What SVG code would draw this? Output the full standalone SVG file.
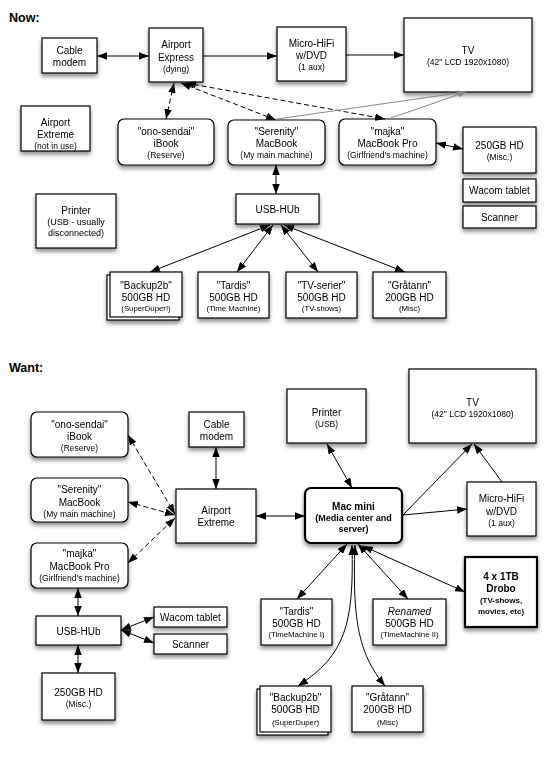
<svg xmlns="http://www.w3.org/2000/svg" width="558" height="759" viewBox="0 0 558 759">
<style>
text{font-family:"Liberation Sans",Arial,sans-serif;fill:#000;text-anchor:middle}
.t{font-size:10px}
.s{font-size:8.5px}
.h{font-size:12.5px;font-weight:bold;text-anchor:start}
.b{font-weight:bold}
.box{fill:#fff;stroke:#000;stroke-width:1.2}
.thick{stroke-width:2.2}
.n{filter:url(#sh)}
.c{fill:none;stroke:#000;stroke-width:1}
.d{stroke-dasharray:5,3}
.g{fill:none;stroke:#888;stroke-width:1}
</style>
<defs>
<filter id="sh" x="-20%" y="-20%" width="140%" height="150%">
<feDropShadow dx="0" dy="3" stdDeviation="2.2" flood-color="#000" flood-opacity="0.45"/>
</filter>
<marker id="a" viewBox="0 0 10 7.5" refX="10" refY="3.75" markerWidth="10" markerHeight="7.5" markerUnits="userSpaceOnUse" orient="auto-start-reverse">
<path d="M0,0 L10,3.75 L0,7.5 Z" fill="#000"/>
</marker>
<marker id="ag" viewBox="0 0 9 7" refX="9" refY="3.5" markerWidth="8" markerHeight="6" markerUnits="userSpaceOnUse" orient="auto">
<path d="M0,0 L9,3.5 L0,7 Z" fill="#888"/>
</marker>
</defs>
<rect width="558" height="759" fill="#fff"/>

<text class="h" x="9" y="22">Now:</text>
<text class="h" x="9" y="372">Want:</text>

<!-- NOW section -->
<g id="now-cable-modem" class="n"><rect class="box" x="42" y="38" width="55" height="35"/>
<text class="t" x="69.5" y="53.5">Cable</text><text class="t" x="69.5" y="65.5">modem</text></g>

<g id="now-airport-express" class="n"><rect class="box" x="149" y="28" width="54" height="54"/>
<text class="t" x="176" y="47.5">Airport</text><text class="t" x="176" y="60.5">Express</text><text class="s" x="176" y="71.5">(dying)</text></g>

<g id="now-micro-hifi" class="n"><rect class="box" x="277" y="27" width="69" height="54"/>
<text class="t" x="311.5" y="46.5">Micro-HiFi</text><text class="t" x="311.5" y="58.5">w/DVD</text><text class="s" x="311.5" y="70">(1 aux)</text></g>

<g id="now-tv" class="n"><rect class="box" x="404" y="18" width="128" height="74"/>
<text class="t" x="468" y="53.5">TV</text><text class="s" x="468" y="65">(42" LCD 1920x1080)</text></g>

<g id="now-airport-extreme" class="n"><rect class="box" x="21" y="106" width="69" height="45"/>
<text class="t" x="55.5" y="126">Airport</text><text class="t" x="55.5" y="138">Extreme</text><text class="s" x="55.5" y="148.5">(not in use)</text></g>

<g id="now-ono-sendai" class="n"><rect class="box" x="118" y="119" width="96" height="46" rx="6"/>
<text class="t" x="166" y="134.5">"ono-sendai"</text><text class="t" x="166" y="146.5">iBook</text><text class="s" x="166" y="158">(Reserve)</text></g>

<g id="now-serenity" class="n"><rect class="box" x="228" y="120" width="97" height="45" rx="6"/>
<text class="t" x="276.5" y="134.5">"Serenity"</text><text class="t" x="276.5" y="146.5">MacBook</text><text class="s" x="276.5" y="158">(My main machine)</text></g>

<g id="now-majka" class="n"><rect class="box" x="339" y="119" width="97" height="46" rx="6"/>
<text class="t" x="387.5" y="134.5">"majka"</text><text class="t" x="387.5" y="146.5">MacBook Pro</text><text class="s" x="387.5" y="158">(Girlfriend's machine)</text></g>

<g id="now-250gb" class="n"><rect class="box" x="463" y="127" width="73" height="46"/>
<text class="t" x="499.5" y="148.5">250GB HD</text><text class="s" x="499.5" y="160">(Misc.)</text></g>

<g id="now-wacom" class="n"><rect class="box" x="463" y="179" width="73" height="23"/>
<text class="t" x="499.5" y="194">Wacom tablet</text></g>

<g id="now-scanner" class="n"><rect class="box" x="463" y="206" width="73" height="22"/>
<text class="t" x="499.5" y="220.5">Scanner</text></g>

<g id="now-printer" class="n"><rect class="box" x="36" y="194" width="80" height="54"/>
<text class="t" x="76" y="213.5">Printer</text><text class="s" x="76" y="225" style="font-size:9px">(USB - usually</text><text class="s" x="76" y="235.5" style="font-size:9px">disconnected)</text></g>

<g id="now-usb-hub" class="n"><rect class="box" x="236" y="194" width="83" height="30"/>
<text class="t" x="277.5" y="212.5">USB-HUb</text></g>

<g id="now-backup2b" class="n"><rect class="box" x="107" y="275" width="72" height="45"/><rect class="box" x="110" y="272" width="72" height="45"/>
<text class="t" x="146" y="288.5">"Backup2b"</text><text class="t" x="146" y="300.5">500GB HD</text><text class="s" x="146" y="310.5" style="font-size:7.8px">(SuperDuper!)</text></g>

<g id="now-tardis" class="n"><rect class="box" x="198" y="272" width="71" height="46"/>
<text class="t" x="233.5" y="288.5">"Tardis"</text><text class="t" x="233.5" y="300.5">500GB HD</text><text class="s" x="233.5" y="310.5" style="font-size:7.8px">(Time Machine)</text></g>

<g id="now-tv-serier" class="n"><rect class="box" x="286" y="272" width="71" height="46"/>
<text class="t" x="321.5" y="288.5">"TV-serier"</text><text class="t" x="321.5" y="300.5">500GB HD</text><text class="s" x="321.5" y="310.5" style="font-size:7.8px">(TV-shows)</text></g>

<g id="now-gratann" class="n"><rect class="box" x="373" y="272" width="73" height="46"/>
<text class="t" x="409.5" y="288.5">"Gråtann"</text><text class="t" x="409.5" y="300.5">200GB HD</text><text class="s" x="409.5" y="310.5" style="font-size:7.8px">(Misc)</text></g>

<!-- WANT section -->
<g id="want-ono-sendai" class="n"><rect class="box" x="31" y="412" width="97" height="45" rx="6"/>
<text class="t" x="79.5" y="427.5">"ono-sendai"</text><text class="t" x="79.5" y="439.5">iBook</text><text class="s" x="79.5" y="450.5">(Reserve)</text></g>

<g id="want-serenity" class="n"><rect class="box" x="31" y="478" width="97" height="44" rx="6"/>
<text class="t" x="79.5" y="492.5">"Serenity"</text><text class="t" x="79.5" y="505.5">MacBook</text><text class="s" x="79.5" y="516.5">(My main machine)</text></g>

<g id="want-majka" class="n"><rect class="box" x="31" y="543" width="97" height="45" rx="6"/>
<text class="t" x="79.5" y="556.5">"majka"</text><text class="t" x="79.5" y="569.5">MacBook Pro</text><text class="s" x="79.5" y="580.5">(Girlfriend's machine)</text></g>

<g id="want-cable-modem" class="n"><rect class="box" x="189" y="412" width="55" height="35"/>
<text class="t" x="216.5" y="427.5">Cable</text><text class="t" x="216.5" y="439.5">modem</text></g>

<g id="want-airport-extreme" class="n"><rect class="box" x="176" y="489" width="80" height="54"/>
<text class="t" x="216" y="514">Airport</text><text class="t" x="216" y="526">Extreme</text></g>

<g id="want-printer" class="n"><rect class="box" x="287" y="389" width="79" height="54"/>
<text class="t" x="326.5" y="415.5">Printer</text><text class="s" x="326.5" y="426.5">(USB)</text></g>

<g id="want-tv" class="n"><rect class="box" x="409" y="369" width="127" height="74"/>
<text class="t" x="472.5" y="405.5">TV</text><text class="s" x="472.5" y="416.5">(42" LCD 1920x1080)</text></g>

<g id="want-mac-mini" class="n"><rect class="box thick" x="305" y="488" width="97" height="55" rx="6"/>
<text class="t b" x="353.5" y="509.5">Mac mini</text><text class="s b" x="353.5" y="520.5" style="font-size:9px">(Media center and</text><text class="s b" x="353.5" y="531.5" style="font-size:9px">server)</text></g>

<g id="want-micro-hifi" class="n"><rect class="box" x="467" y="482" width="69" height="54"/>
<text class="t" x="501.5" y="501.5">Micro-HiFi</text><text class="t" x="501.5" y="514.5">w/DVD</text><text class="s" x="501.5" y="526">(1 aux)</text></g>

<g id="want-usb-hub" class="n"><rect class="box" x="36" y="616" width="85" height="29"/>
<text class="t" x="78.5" y="634.5">USB-HUb</text></g>

<g id="want-wacom" class="n"><rect class="box" x="154" y="607" width="73" height="20"/>
<text class="t" x="190.5" y="620.5">Wacom tablet</text></g>

<g id="want-scanner" class="n"><rect class="box" x="154" y="634" width="73" height="20"/>
<text class="t" x="190.5" y="647.5">Scanner</text></g>

<g id="want-250gb" class="n"><rect class="box" x="42" y="673" width="73" height="47"/>
<text class="t" x="78.5" y="695.5">250GB HD</text><text class="s" x="78.5" y="707">(Misc.)</text></g>

<g id="want-tardis" class="n"><rect class="box" x="261" y="599" width="71" height="46"/>
<text class="t" x="296.5" y="614.5">"Tardis"</text><text class="t" x="296.5" y="626.5">500GB HD</text><text class="s" x="296.5" y="637" style="font-size:7.8px">(TimeMachine I)</text></g>

<g id="want-renamed" class="n"><rect class="box" x="373" y="599" width="73" height="46"/>
<text class="t" x="409.5" y="614.5" style="font-style:italic">Renamed</text><text class="t" x="409.5" y="626.5">500GB HD</text><text class="s" x="409.5" y="637" style="font-size:7.8px">(TimeMachine II)</text></g>

<g id="want-drobo" class="n"><rect class="box thick" x="465" y="557" width="72" height="70"/>
<text class="t b" x="501" y="579.5">4 x 1TB</text><text class="t b" x="501" y="591.5">Drobo</text><text class="s b" x="501" y="602.5" style="font-size:8px">(TV-shows,</text><text class="s b" x="501" y="614" style="font-size:8px">movies, etc)</text></g>

<g id="want-backup2b" class="n"><rect class="box" x="257" y="689" width="71" height="46"/><rect class="box" x="260" y="686" width="71" height="46"/>
<text class="t" x="295.5" y="700.5">"Backup2b"</text><text class="t" x="295.5" y="713">500GB HD</text><text class="s" x="295.5" y="724.5" style="font-size:7.8px">(SuperDuper)</text></g>

<g id="want-gratann" class="n"><rect class="box" x="352" y="686" width="71" height="46"/>
<text class="t" x="387.5" y="700.5">"Gråtann"</text><text class="t" x="387.5" y="713">200GB HD</text><text class="s" x="387.5" y="724.5" style="font-size:7.8px">(Misc)</text></g>

<g id="connectors">
<!-- now -->
<line class="c" x1="97" y1="56" x2="149" y2="56" marker-start="url(#a)" marker-end="url(#a)"/>
<line class="c" x1="203" y1="56" x2="277" y2="56" marker-end="url(#a)"/>
<line class="c" x1="346" y1="55" x2="404" y2="55" marker-end="url(#a)"/>
<line class="c d" x1="174" y1="83" x2="166" y2="119" marker-start="url(#a)" marker-end="url(#a)"/>
<line class="c d" x1="181" y1="83" x2="276" y2="120" marker-start="url(#a)" marker-end="url(#a)"/>
<line class="c d" x1="186" y1="83" x2="385" y2="119" marker-start="url(#a)" marker-end="url(#a)"/>
<line class="g" x1="277" y1="119" x2="465" y2="92" marker-end="url(#ag)"/>
<line class="g" x1="388" y1="119" x2="466" y2="92" marker-end="url(#ag)"/>
<line class="c" x1="436" y1="143" x2="463" y2="149" marker-start="url(#a)" marker-end="url(#a)"/>
<line class="c" x1="276" y1="165" x2="276" y2="194" marker-start="url(#a)" marker-end="url(#a)"/>
<line class="c" x1="270" y1="225" x2="150" y2="272" marker-start="url(#a)" marker-end="url(#a)"/>
<line class="c" x1="273" y1="225" x2="237" y2="272" marker-start="url(#a)" marker-end="url(#a)"/>
<line class="c" x1="281" y1="225" x2="318" y2="272" marker-start="url(#a)" marker-end="url(#a)"/>
<line class="c" x1="284" y1="225" x2="405" y2="272" marker-start="url(#a)" marker-end="url(#a)"/>
<!-- want -->
<line class="c" x1="216" y1="447" x2="216" y2="489" marker-start="url(#a)" marker-end="url(#a)"/>
<line class="c d" x1="128" y1="435" x2="175" y2="514" marker-start="url(#a)" marker-end="url(#a)"/>
<line class="c d" x1="128" y1="502" x2="175" y2="515" marker-start="url(#a)" marker-end="url(#a)"/>
<line class="c d" x1="128" y1="563" x2="175" y2="518" marker-start="url(#a)" marker-end="url(#a)"/>
<line class="c" x1="256" y1="516" x2="305" y2="516" marker-start="url(#a)" marker-end="url(#a)"/>
<line class="c" x1="327" y1="444" x2="352" y2="488" marker-start="url(#a)" marker-end="url(#a)"/>
<line class="c" x1="403" y1="515" x2="472" y2="444" marker-end="url(#a)"/>
<line class="c" x1="502" y1="482" x2="474" y2="444" marker-end="url(#a)"/>
<line class="c" x1="403" y1="515" x2="467" y2="509" marker-end="url(#a)"/>
<line class="c" x1="78" y1="588" x2="78" y2="616" marker-start="url(#a)" marker-end="url(#a)"/>
<line class="c" x1="78" y1="645" x2="78" y2="673" marker-start="url(#a)" marker-end="url(#a)"/>
<line class="c" x1="121" y1="630" x2="154" y2="617" marker-start="url(#a)" marker-end="url(#a)"/>
<line class="c" x1="121" y1="630" x2="154" y2="643" marker-start="url(#a)" marker-end="url(#a)"/>
<line class="c" x1="347" y1="544" x2="297" y2="599" marker-start="url(#a)" marker-end="url(#a)"/>
<line class="c" x1="358" y1="544" x2="408" y2="599" marker-start="url(#a)" marker-end="url(#a)"/>
<line class="c" x1="363" y1="546" x2="465" y2="592" marker-start="url(#a)" marker-end="url(#a)"/>
<path class="c" d="M352,545 C354,625 345,655 298,686" marker-start="url(#a)" marker-end="url(#a)"/>
<path class="c" d="M355,545 C352,625 360,655 385,686" marker-start="url(#a)" marker-end="url(#a)"/>
</g>
</svg>
